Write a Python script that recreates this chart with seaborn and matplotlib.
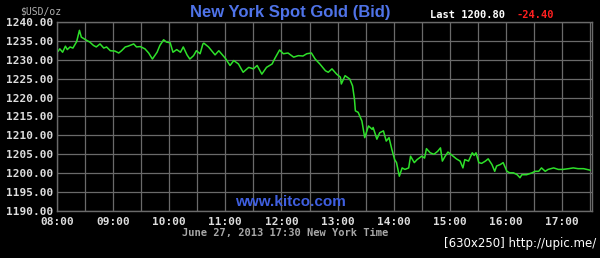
import matplotlib
matplotlib.use("Agg")
import matplotlib.pyplot as plt
import seaborn as sns
import pandas as pd
import numpy as np

# minutes after 08:00 New York time
minutes = [1, 3, 6, 9, 11, 14, 17, 21, 24, 26, 32, 35, 39, 42, 46, 50, 53, 57, 62, 66,
           69, 73, 76, 82, 85, 89, 94, 98, 102, 107, 110, 114, 117, 121, 124, 128, 132, 135, 139, 142,
           146, 149, 153, 156, 157, 162, 169, 173, 180, 185, 189, 194, 199, 205, 210, 214, 219, 224, 230, 233,
           238, 242, 247, 253, 258, 263, 267, 272, 276, 281, 287, 290, 294, 299, 303, 304, 308, 313, 316, 318,
           319, 322, 326, 329, 333, 337, 338, 342, 345, 349, 352, 355, 358, 361, 363, 366, 369, 372, 376, 378,
           382, 385, 390, 393, 395, 399, 403, 407, 410, 412, 415, 418, 422, 427, 431, 434, 436, 440, 444, 446,
           448, 451, 454, 458, 461, 465, 468, 470, 474, 477, 481, 484, 488, 492, 495, 497, 502, 508, 511, 515,
           518, 522, 525, 531, 536, 541, 547, 552, 557, 563, 570]
prices = [1232.2, 1232.9, 1232.0, 1233.6, 1232.7, 1233.4, 1233.1, 1234.8, 1237.8, 1236.0,
          1235.1, 1234.7, 1233.8, 1233.4, 1234.2, 1233.1, 1233.4, 1232.4, 1232.3, 1231.8,
          1232.4, 1233.4, 1233.6, 1234.2, 1233.4, 1233.5, 1232.9, 1231.8, 1230.2, 1232.0,
          1233.8, 1235.3, 1234.7, 1234.5, 1232.0, 1232.7, 1232.0, 1233.4, 1231.3, 1230.2,
          1231.1, 1232.4, 1231.6, 1234.2, 1234.4, 1233.4, 1231.3, 1232.4, 1230.4, 1228.5,
          1229.8, 1228.9, 1226.7, 1228.0, 1227.6, 1228.5, 1226.2, 1228.0, 1228.9, 1230.4,
          1232.6, 1231.6, 1231.8, 1230.7, 1231.1, 1231.0, 1231.6, 1231.8, 1230.2, 1228.9,
          1227.1, 1226.7, 1227.6, 1226.2, 1225.4, 1223.6, 1225.8, 1224.9, 1223.1, 1219.6,
          1216.5, 1216.1, 1213.8, 1209.4, 1212.5, 1211.6, 1212.1, 1209.0, 1210.7, 1211.2,
          1208.5, 1209.4, 1206.3, 1203.6, 1202.8, 1199.2, 1201.4, 1201.0, 1201.4, 1204.5,
          1202.8, 1203.6, 1204.5, 1204.0, 1206.5, 1205.4, 1205.0, 1205.8, 1206.7, 1203.2,
          1204.5, 1205.6, 1204.8, 1203.8, 1203.2, 1201.4, 1203.6, 1203.2, 1205.4, 1204.7,
          1205.4, 1202.8, 1202.6, 1203.2, 1203.8, 1202.3, 1200.5, 1201.9, 1202.3, 1202.8,
          1200.5, 1200.1, 1200.1, 1199.6, 1198.8, 1199.6, 1199.6, 1200.1, 1200.5, 1200.5,
          1201.4, 1200.5, 1201.0, 1201.4, 1201.0, 1201.0, 1201.2, 1201.4, 1201.2, 1201.2, 1200.8]

hour_ticks = [0, 60, 120, 180, 240, 300, 360, 420, 480, 540]
hour_labels = ["08:00", "09:00", "10:00", "11:00", "12:00", "13:00", "14:00", "15:00", "16:00", "17:00"]
price_ticks = [1190, 1195, 1200, 1205, 1210, 1215, 1220, 1225, 1230, 1235, 1240]

title = "New York Spot Gold (Bid)"
last_price = "Last 1200.80"
change = "-24.40"

sns.set_style("dark")
plt.rcParams["font.family"] = ["DejaVu Sans Mono", "DejaVu Sans"]

fig = plt.figure(figsize=(6.0, 2.58), dpi=100, facecolor="black")
ax = fig.add_axes([57 / 600, 1 - 211 / 258, (592 - 57) / 600, (211 - 22) / 258])
ax.set_facecolor("black")

df = pd.DataFrame({"minute": minutes, "price": prices})
sns.lineplot(data=df, x="minute", y="price", ax=ax, color="#2ee02a", linewidth=1.1)

ax.set_xlim(0, 572)
ax.set_ylim(1190, 1240)
ax.set_xticks(hour_ticks)
ax.set_xticklabels(hour_labels)
ax.set_xticks(list(range(30, 571, 60)), minor=True)
ax.set_yticks(price_ticks)
ax.set_yticklabels([f"{v:.2f}" for v in price_ticks])
ax.grid(True, which="both", color="#6a6a6a", linewidth=0.9)
ax.set_axisbelow(True)
ax.set_xlabel("")
ax.set_ylabel("")
ax.tick_params(axis="both", which="both", length=0, colors="#dddddd", labelsize=8)
ax.tick_params(axis="x", pad=4.5)
ax.tick_params(axis="y", pad=3)
for lab in ax.get_xticklabels() + ax.get_yticklabels():
    lab.set_fontweight("bold")
for s in ax.spines.values():
    s.set_visible(True)
    s.set_color("#6a6a6a")
    s.set_linewidth(1.0)

fig.text(20 / 600, 1 - 11 / 258, "$USD/oz", color="#b0b0b0", fontsize=7, va="center", ha="left",
         family="DejaVu Sans Mono")
fig.text(290 / 600, 1 - 12 / 258, title, color="#4f73e8", fontsize=12, fontweight="bold",
         ha="center", va="center", family="Liberation Sans")
fig.text(430 / 600, 1 - 15 / 258, last_price, color="white", fontsize=7.5, fontweight="bold",
         ha="left", va="center", family="DejaVu Sans Mono")
fig.text(517 / 600, 1 - 15 / 258, change, color="#ff2020", fontsize=7.5, fontweight="bold",
         ha="left", va="center", family="DejaVu Sans Mono")
fig.text(290 / 600, 1 - 202 / 258, "www.kitco.com", color="#3f5fe0", fontsize=11, fontweight="bold",
         ha="center", va="center", family="Liberation Sans")
fig.text(285 / 600, 1 - 233 / 258, "June 27, 2013 17:30 New York Time", color="#a8a8a8", fontsize=7.5,
         fontweight="bold", ha="center", va="center", family="DejaVu Sans Mono")
fig.text(596 / 600, 1 - 244 / 258, "[630x250] http://upic.me/", color="white", fontsize=8.5,
         ha="right", va="center", family="DejaVu Sans")

fig.savefig("out.png", dpi=100, facecolor="black")
